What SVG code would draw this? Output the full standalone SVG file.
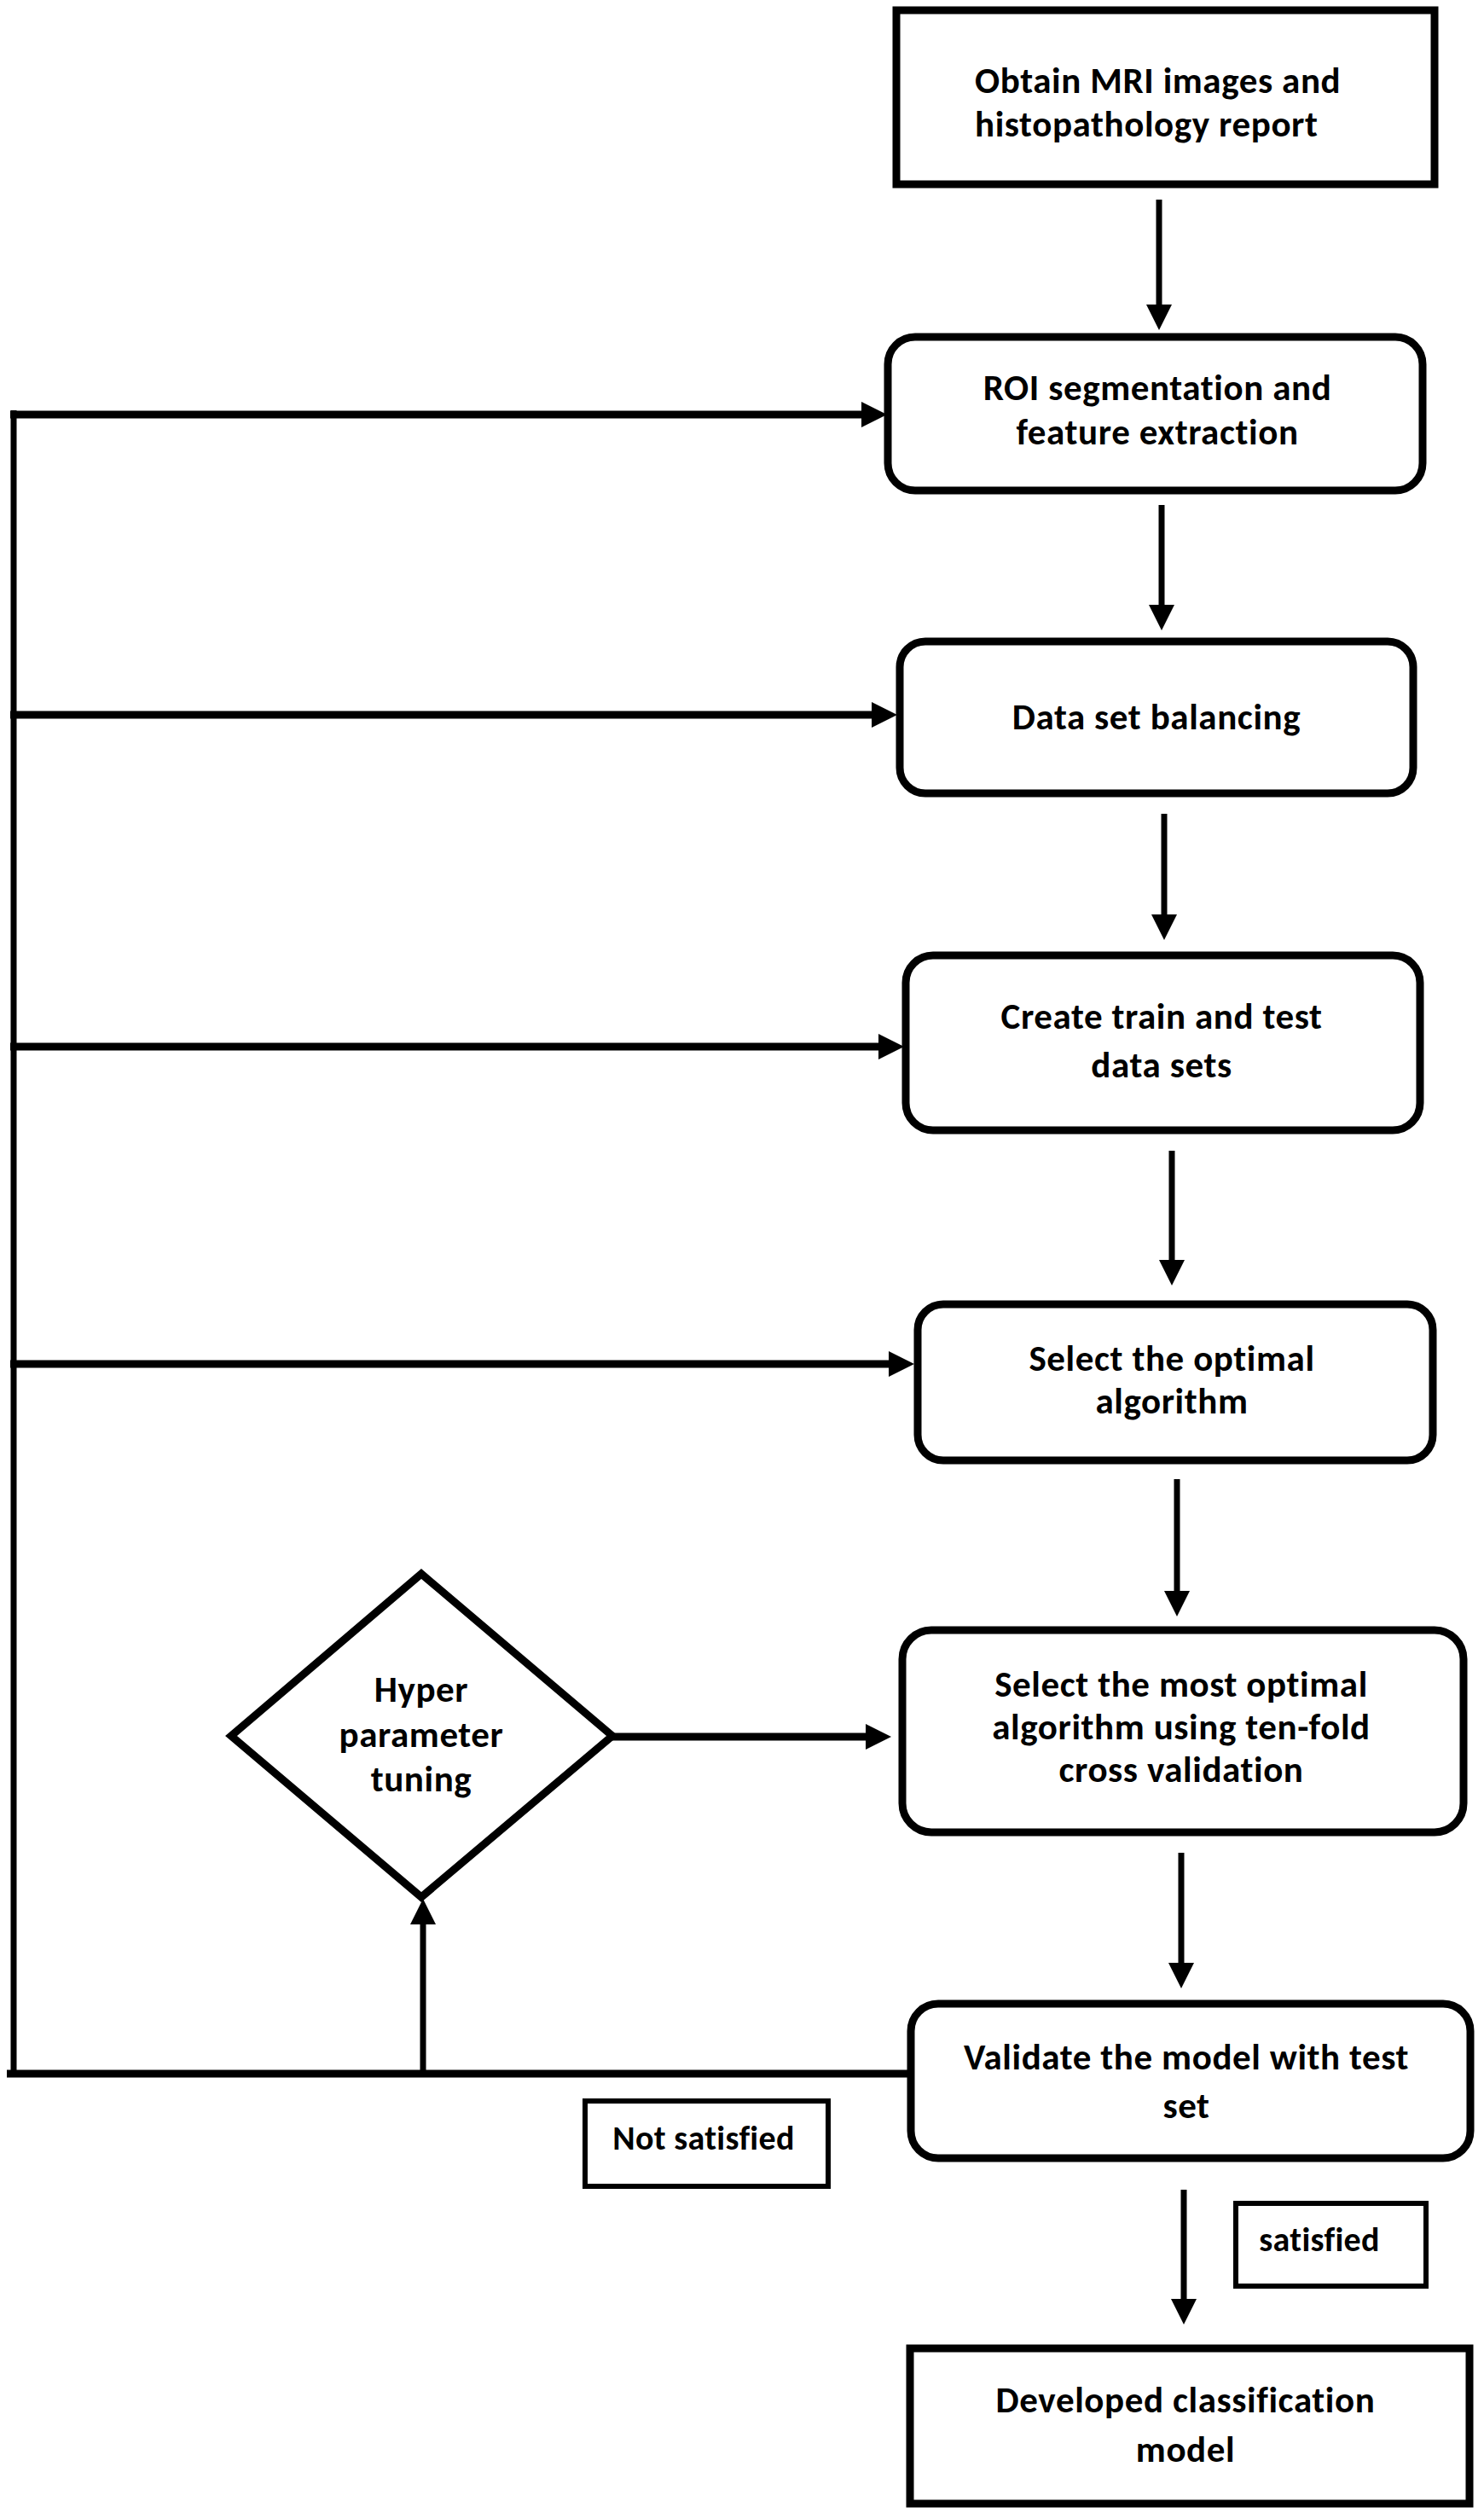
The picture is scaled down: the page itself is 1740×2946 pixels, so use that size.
<svg xmlns="http://www.w3.org/2000/svg" width="1740" height="2946" viewBox="0 0 1740 2946">
<style>
.box{fill:#fff;stroke:#000;stroke-width:9}
.lbl{fill:#fff;stroke:#000;stroke-width:6}
.t{font-family:Carlito,Lato,"Open Sans",sans-serif;font-weight:bold;font-size:43px;letter-spacing:0.6px;fill:#000;text-anchor:middle}
.ts{font-size:40px;letter-spacing:0.3px}
.h{stroke:#000;stroke-width:9;fill:none}
.v{stroke:#000;stroke-width:7;fill:none}
</style>
<defs>
<marker id="arr" viewBox="0 0 30 30" markerWidth="30" markerHeight="30" markerUnits="userSpaceOnUse" refX="2" refY="15" orient="auto">
<path d="M0,0 L30,15 L0,30 Z" fill="#000"/>
</marker>
</defs>
<rect width="1740" height="2946" fill="#fff"/>
<g id="connectors">
<line class="v" x1="1359" y1="234" x2="1359" y2="359" marker-end="url(#arr)"/>
<line class="v" x1="1362" y1="592" x2="1362" y2="711" marker-end="url(#arr)"/>
<line class="v" x1="1365" y1="954" x2="1365" y2="1074" marker-end="url(#arr)"/>
<line class="v" x1="1374" y1="1349" x2="1374" y2="1479" marker-end="url(#arr)"/>
<line class="v" x1="1380" y1="1734" x2="1380" y2="1867" marker-end="url(#arr)"/>
<line class="v" x1="1385" y1="2172" x2="1385" y2="2303" marker-end="url(#arr)"/>
<line class="v" x1="1388" y1="2567" x2="1388" y2="2697" marker-end="url(#arr)"/>
<line class="v" x1="16" y1="481" x2="16" y2="2435"/>
<line class="h" x1="12" y1="486" x2="1012" y2="486" marker-end="url(#arr)"/>
<line class="h" x1="12" y1="838" x2="1024" y2="838" marker-end="url(#arr)"/>
<line class="h" x1="12" y1="1227" x2="1032" y2="1227" marker-end="url(#arr)"/>
<line class="h" x1="12" y1="1599" x2="1044" y2="1599" marker-end="url(#arr)"/>
<line class="h" x1="718" y1="2036" x2="1017" y2="2036" marker-end="url(#arr)"/>
<line class="h" x1="8" y1="2431" x2="1064" y2="2431"/>
<line class="v" x1="496" y1="2431" x2="496" y2="2254" marker-end="url(#arr)"/>
</g>
<g id="n1">
<rect class="box" x="1051" y="12" width="631" height="204"/>
<text class="t" style="text-anchor:start" x="1143" y="109">Obtain MRI images and</text>
<text class="t" style="text-anchor:start" x="1143" y="160">histopathology report</text>
</g>
<g id="n2">
<rect class="box" x="1041" y="395" width="627" height="180" rx="32"/>
<text class="t" x="1357" y="469">ROI segmentation and</text>
<text class="t" x="1357" y="521">feature extraction</text>
</g>
<g id="n3">
<rect class="box" x="1055" y="752" width="602" height="178" rx="30"/>
<text class="t" x="1356" y="855">Data set balancing</text>
</g>
<g id="n4">
<rect class="box" x="1062" y="1120" width="603" height="205" rx="32"/>
<text class="t" x="1362" y="1206">Create train and test</text>
<text class="t" x="1362" y="1263">data sets</text>
</g>
<g id="n5">
<rect class="box" x="1076" y="1529" width="604" height="183" rx="30"/>
<text class="t" x="1374" y="1607">Select the optimal</text>
<text class="t" x="1374" y="1657">algorithm</text>
</g>
<g id="n6">
<rect class="box" x="1058" y="1911" width="658" height="237" rx="34"/>
<text class="t" x="1385" y="1989">Select the most optimal</text>
<text class="t" x="1385" y="2039">algorithm using ten-fold</text>
<text class="t" x="1385" y="2089">cross validation</text>
</g>
<g id="n7">
<polygon class="box" points="494,1845 718,2035 494,2224 271,2035"/>
<text class="t" x="494" y="1995">Hyper</text>
<text class="t" x="494" y="2048">parameter</text>
<text class="t" x="494" y="2100">tuning</text>
</g>
<g id="n8">
<rect class="box" x="1068" y="2349" width="656" height="181" rx="32"/>
<text class="t" x="1391" y="2426">Validate the model with test</text>
<text class="t" x="1391" y="2483">set</text>
</g>
<g id="n9">
<rect class="lbl" x="686" y="2463" width="285" height="100"/>
<text class="t ts" x="825" y="2520">Not satisfied</text>
</g>
<g id="n10">
<rect class="lbl" x="1449" y="2583" width="223" height="97"/>
<text class="t ts" x="1547" y="2639">satisfied</text>
</g>
<g id="n11">
<rect class="box" x="1067" y="2753" width="656" height="182"/>
<text class="t" x="1390" y="2828">Developed classification</text>
<text class="t" x="1390" y="2886">model</text>
</g>
</svg>
